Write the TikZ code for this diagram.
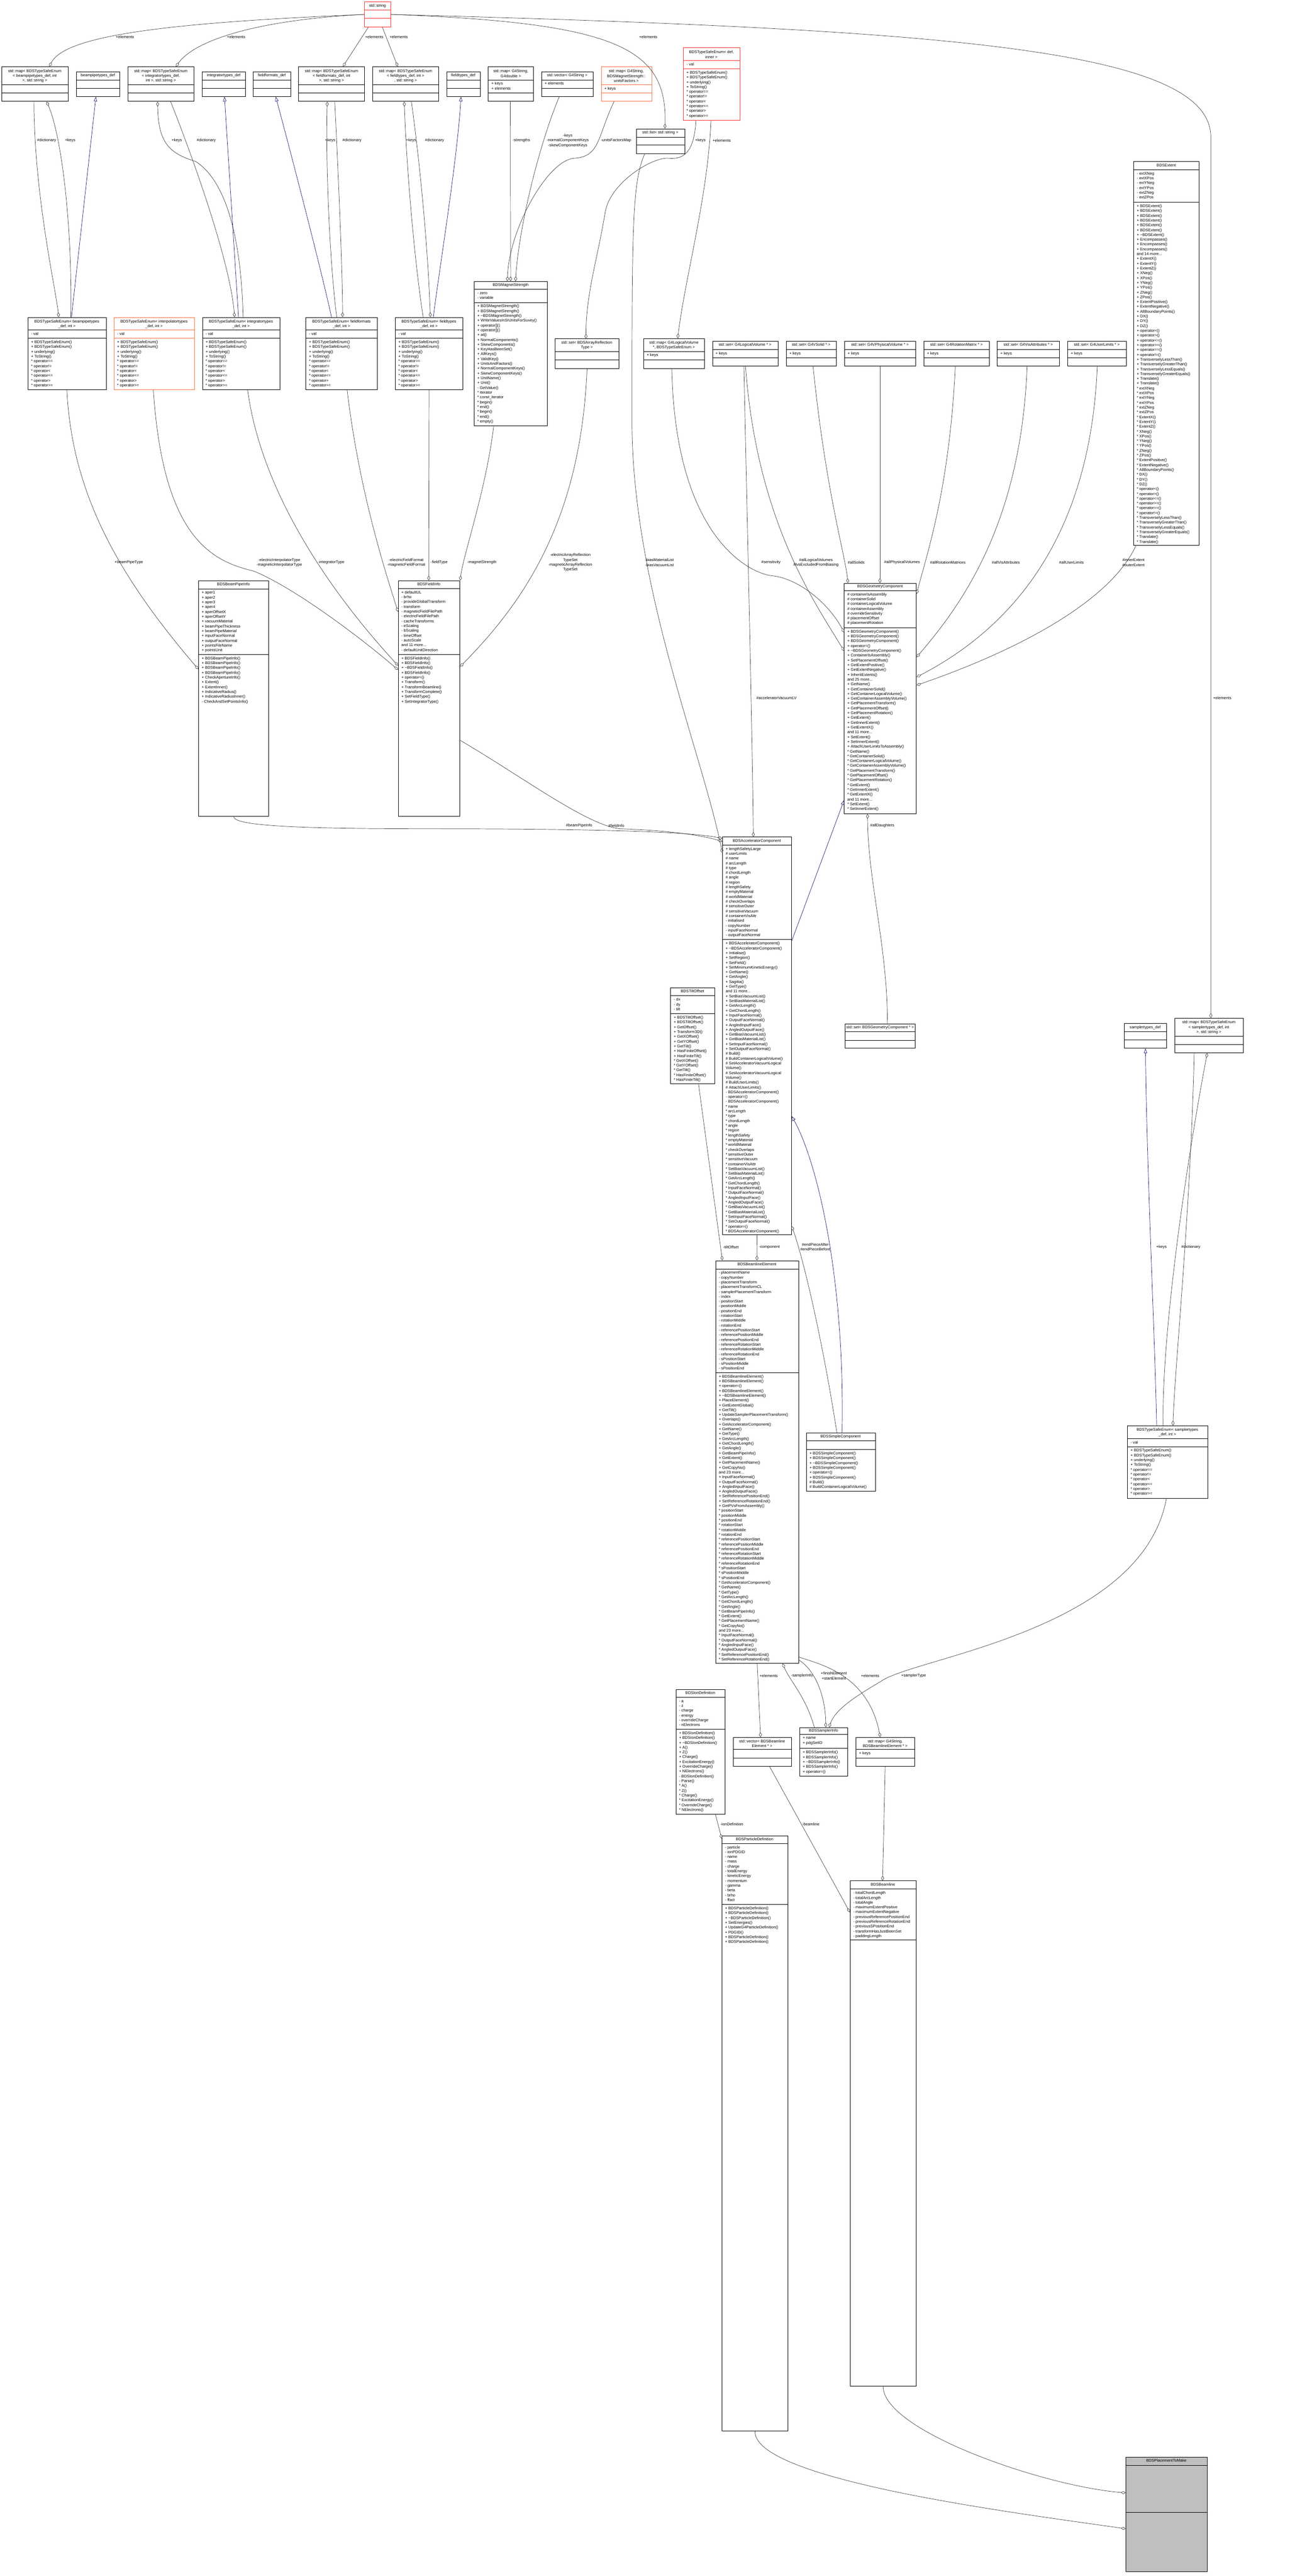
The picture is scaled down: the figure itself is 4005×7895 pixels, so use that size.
\documentclass[tikz,border=0pt]{standalone}
\usepackage{fontspec}
\setmainfont{Liberation Sans}
\usetikzlibrary{arrows.meta,calc}
\definecolor{edgec}{HTML}{404040}
\definecolor{inhc}{HTML}{191970}
\definecolor{redc}{HTML}{FF3030}
\definecolor{orc}{HTML}{FF7040}
\definecolor{focusc}{HTML}{BFBFBF}
\newcommand\mf{\fontsize{12}{14.7}\selectfont}
\newcommand\te{\textasciitilde}
\newcommand\setys[4]{\def\ya{#1}\def\yb{#2}\def\yc{#3}\def\yd{#4}}
\tikzset{
  umlbox/.style={draw, line width=1.5pt, fill=white, anchor=north west, inner sep=0pt},
  ttl/.style={font=\mf, align=center, inner sep=0pt, anchor=center},
  mem/.style={font=\mf, align=left, anchor=north west, inner sep=0pt},
  lbl/.style={font=\mf, align=center, inner sep=0pt},
  ln/.style={draw=edgec, line width=1.1pt},
  agg/.style={ln, -{Diamond[open,length=15pt,width=9pt,line width=1.1pt]}},
  inh/.style={draw=inhc, line width=1.1pt, -{Triangle[open,length=14pt,width=10pt,line width=1.1pt]}}
}
\newcommand\uml[7][black]{%
  \pgfmathsetmacro\hh{\yd-\ya}%
  \pgfmathsetmacro\xm{#3+#4/2}%
  \pgfmathsetmacro\ym{(\ya+\yb)/2}%
  \node[umlbox, draw=#1, minimum width=#4pt, minimum height=\hh pt] (#2) at (#3,\ya) {};
  \draw[draw=#1, line width=1.5pt] (#3,\yb) -- (#3+#4,\yb) (#3,\yc) -- (#3+#4,\yc);
  \node[ttl] (#2-t) at (\xm,\ym) {\strut#5};
  \node[mem] (#2-a) at (#3+10,\yb+5) {\strut#6};
  \node[mem] (#2-m) at (#3+10,\yc+5) {\strut#7};
}
\newcommand\tsem{+ BDSTypeSafeEnum()\\+ BDSTypeSafeEnum()\\+ underlying()\\+ ToString()\\{*} operator==\\{*} operator!=\\{*} operator<\\{*} operator<=\\{*} operator>\\{*} operator>=}
\newcommand\extcore[1]{#1 ExtentX()\\#1 ExtentY()\\#1 ExtentZ()\\#1 XNeg()\\#1 XPos()\\#1 YNeg()\\#1 YPos()\\#1 ZNeg()\\#1 ZPos()\\#1 ExtentPositive()\\#1 ExtentNegative()\\#1 AllBoundaryPoints()\\#1 DX()\\#1 DY()\\#1 DZ()\\#1 operator<()\\#1 operator>()\\#1 operator<=()\\#1 operator>=()\\#1 operator==()\\#1 operator!=()\\#1 TransverselyLessThan()\\#1 TransverselyGreaterThan()\\#1 TransverselyLessEquals()\\#1 TransverselyGreaterEquals()\\#1 Translate()\\#1 Translate()}
\newcommand\gccore[1]{#1 GetName()\\#1 GetContainerSolid()\\#1 GetContainerLogicalVolume()\\#1 GetContainerAssemblyVolume()\\#1 GetPlacementTransform()\\#1 GetPlacementOffset()\\#1 GetPlacementRotation()\\#1 GetExtent()\\#1 GetInnerExtent()\\#1 GetExtentX()\\and 11 more...\\#1 SetExtent()\\#1 SetInnerExtent()}
\newcommand\accore[1]{#1 SetBiasVacuumList()\\#1 SetBiasMaterialList()\\#1 GetArcLength()\\#1 GetChordLength()\\#1 InputFaceNormal()\\#1 OutputFaceNormal()\\#1 AngledInputFace()\\#1 AngledOutputFace()\\#1 GetBiasVacuumList()\\#1 GetBiasMaterialList()\\#1 SetInputFaceNormal()\\#1 SetOutputFaceNormal()}
\newcommand\acattr[1]{#1 name\\#1 arcLength\\#1 type\\#1 chordLength\\#1 angle\\#1 region\\#1 lengthSafety\\#1 emptyMaterial\\#1 worldMaterial\\#1 checkOverlaps\\#1 sensitiveOuter\\#1 sensitiveVacuum\\#1 containerVisAttr}
\newcommand\blepos[1]{#1 positionStart\\#1 positionMiddle\\#1 positionEnd\\#1 rotationStart\\#1 rotationMiddle\\#1 rotationEnd\\#1 referencePositionStart\\#1 referencePositionMiddle\\#1 referencePositionEnd\\#1 referenceRotationStart\\#1 referenceRotationMiddle\\#1 referenceRotationEnd\\#1 sPositionStart\\#1 sPositionMiddle\\#1 sPositionEnd}
\newcommand\blecore[1]{#1 GetAcceleratorComponent()\\#1 GetName()\\#1 GetType()\\#1 GetArcLength()\\#1 GetChordLength()\\#1 GetAngle()\\#1 GetBeamPipeInfo()\\#1 GetExtent()\\#1 GetPlacementName()\\#1 GetCopyNo()\\and 23 more...\\#1 InputFaceNormal()\\#1 OutputFaceNormal()\\#1 AngledInputFace()\\#1 AngledOutputFace()\\#1 SetReferencePositionEnd()\\#1 SetReferenceRotationEnd()}
\begin{document}
\begin{tikzpicture}[x=1pt,y=-1pt]
\useasboundingbox (0,0) rectangle (4005,7895);
\fill[white] (0,0) rectangle (4005,7895);
% ---------- top rows
\setys{5}{31}{56}{82}\uml[redc]{str}{1117}{80}{std::string}{}{}
\setys{204}{260}{285}{310}
\uml{mapbeam}{5}{203}{std::map< BDSTypeSafeEnum\\< beampipetypes\_def, int\\>, std::string >}{}{}
\uml{mapinteg}{392}{202}{std::map< BDSTypeSafeEnum\\< integratortypes\_def,\\int >, std::string >}{}{}
\uml{mapfform}{915}{202}{std::map< BDSTypeSafeEnum\\< fieldformats\_def, int\\>, std::string >}{}{}
\uml{mapftype}{1142}{202}{std::map< BDSTypeSafeEnum\\< fieldtypes\_def, int >\\, std::string >}{}{}
\uml[orc]{mapunits}{1842}{155}{std::map< G4String,\\BDSMagnetStrength::\\unitsFactors >}{+ keys}{}
\setys{204}{245}{285}{310}\uml{mapstr}{1496}{139}{std::map< G4String,\\G4double >}{+ keys\\+ elements}{}
\setys{219}{245}{270}{295}
\uml{beamdef}{233}{134}{beampipetypes\_def}{}{}
\uml{integdef}{619}{133}{integratortypes\_def}{}{}
\uml{fformdef}{776}{114}{fieldformats\_def}{}{}
\uml{ftypedef}{1369}{102}{fieldtypes\_def}{}{}
\uml{vecstr}{1659}{159}{std::vector< G4String >}{+ elements}{}
\setys{146}{186}{211}{368}\uml[redc]{tsedef}{2094}{173}{BDSTypeSafeEnum< def,\\inner >}{- val}{\tsem}
\setys{394}{420}{445}{470}\uml{liststr}{1950}{148}{std::list< std::string >}{}{}
% ---------- enum row
\setys{972}{1012}{1037}{1194}
\uml{tsebeam}{85}{240}{BDSTypeSafeEnum< beampipetypes\\\_def, int >}{- val}{\tsem}
\uml[orc]{tseinterp}{349}{246}{BDSTypeSafeEnum< interpolatortypes\\\_def, int >}{- val}{\tsem}
\uml{tseinteg}{620}{237}{BDSTypeSafeEnum< integratortypes\\\_def, int >}{- val}{\tsem}
\uml{tsefform}{937}{219}{BDSTypeSafeEnum< fieldformats\\\_def, int >}{- val}{\tsem}
\uml{tseftype}{1211}{207}{BDSTypeSafeEnum< fieldtypes\\\_def, int >}{- val}{\tsem}
\setys{862}{887}{927}{1305}
\uml{magstr}{1453}{224}{BDSMagnetStrength}{- zero\\- variable}{+ BDSMagnetStrength()\\+ BDSMagnetStrength()\\+ \te BDSMagnetStrength()\\+ WriteValuesInSIUnitsForSuvey()\\+ operator[]()\\+ operator[]()\\+ at()\\+ NormalComponents()\\+ SkewComponents()\\+ KeyHasBeenSet()\\+ AllKeys()\\+ ValidKey()\\+ UnitsAndFactors()\\+ NormalComponentKeys()\\+ SkewComponentKeys()\\+ UnitName()\\+ Unit()\\- GetValue()\\{*} iterator\\{*} const\_iterator\\{*} begin()\\{*} end()\\{*} begin()\\{*} end()\\{*} empty()}
\setys{1038}{1077}{1103}{1129}\uml{setarr}{1701}{195}{std::set< BDSArrayReflection\\Type >}{}{}
\setys{1037}{1077}{1103}{1129}\uml{maplv}{1972}{187}{std::map< G4LogicalVolume\\*, BDSTypeSafeEnum >}{+ keys}{}
\setys{1045}{1071}{1096}{1121}
\uml{setlv}{2183}{201}{std::set< G4LogicalVolume * >}{+ keys}{}
\uml{setsolid}{2409}{154}{std::set< G4VSolid * >}{+ keys}{}
\uml{setpv}{2588}{218}{std::set< G4VPhysicalVolume * >}{+ keys}{}
\uml{setrot}{2831}{201}{std::set< G4RotationMatrix * >}{+ keys}{}
\uml{setvis}{3056}{191}{std::set< G4VisAttributes * >}{+ keys}{}
\uml{setul}{3272}{179}{std::set< G4UserLimits * >}{+ keys}{}
\setys{495}{520}{620}{1670}
\uml{extent}{3474}{201}{BDSExtent}{- extXNeg\\- extXPos\\- extYNeg\\- extYPos\\- extZNeg\\- extZPos}{+ BDSExtent()\\+ BDSExtent()\\+ BDSExtent()\\+ BDSExtent()\\+ BDSExtent()\\+ BDSExtent()\\+ \te BDSExtent()\\+ Encompasses()\\+ Encompasses()\\+ Encompasses()\\and 14 more...\\\extcore{+}\\{*} extXNeg\\{*} extXPos\\{*} extYNeg\\{*} extYPos\\{*} extZNeg\\{*} extZPos\\\extcore{{*}}}
% ---------- info boxes
\setys{1779}{1805}{2006}{2501}
\uml{beampipe}{608}{215}{BDSBeamPipeInfo}{+ aper1\\+ aper2\\+ aper3\\+ aper4\\+ aperOffsetX\\+ aperOffsetY\\+ vacuumMaterial\\+ beamPipeThickness\\+ beamPipeMaterial\\+ inputFaceNormal\\+ outputFaceNormal\\+ pointsFileName\\+ pointsUnit}{+ BDSBeamPipeInfo()\\+ BDSBeamPipeInfo()\\+ BDSBeamPipeInfo()\\+ BDSBeamPipeInfo()\\+ CheckApertureInfo()\\+ Extent()\\+ ExtentInner()\\+ IndicativeRadius()\\+ IndicativeRadiusInner()\\- CheckAndSetPointsInfo()}
\setys{1779}{1804}{2006}{2501}
\uml{fieldinfo}{1220}{189}{BDSFieldInfo}{+ defaultUL\\- brho\\- provideGlobalTransform\\- transform\\- magneticFieldFilePath\\- electricFieldFilePath\\- cacheTransforms\\- eScaling\\- bScaling\\- timeOffset\\- autoScale\\and 11 more...\\- defaultUnitDirection}{+ BDSFieldInfo()\\+ BDSFieldInfo()\\+ \te BDSFieldInfo()\\+ BDSFieldInfo()\\+ operator=()\\+ Transform()\\+ TransformBeamline()\\+ TransformComplete()\\+ SetFieldType()\\+ SetIntegratorType()}
\setys{1787}{1810}{1924}{2493}
\uml{geomcomp}{2587}{221}{BDSGeometryComponent}{\# containerIsAssembly\\\# containerSolid\\\# containerLogicalVolume\\\# containerAssembly\\\# overrideSensitivity\\\# placementOffset\\\# placementRotation}{+ BDSGeometryComponent()\\+ BDSGeometryComponent()\\+ BDSGeometryComponent()\\+ operator=()\\+ \te BDSGeometryComponent()\\+ ContainerIsAssembly()\\+ SetPlacementOffset()\\+ GetExtentPositive()\\+ GetExtentNegative()\\+ InheritExtents()\\and 25 more...\\\gccore{+}\\+ AttachUserLimitsToAssembly()\\\gccore{{*}}}
\setys{2565}{2590}{2880}{3783}
\uml{acccomp}{2214}{211}{BDSAcceleratorComponent}{+ lengthSafetyLarge\\\# userLimits\\\acattr{\#}\\- initialised\\- copyNumber\\- inputFaceNormal\\- outputFaceNormal}{+ BDSAcceleratorComponent()\\+ \te BDSAcceleratorComponent()\\+ Initialise()\\+ SetRegion()\\+ SetField()\\+ SetMinimumKineticEnergy()\\+ GetName()\\+ GetAngle()\\+ Sagitta()\\+ GetType()\\and 11 more...\\\accore{+}\\\# Build()\\\# BuildContainerLogicalVolume()\\\# SetAcceleratorVacuumLogical\\Volume()\\\# SetAcceleratorVacuumLogical\\Volume()\\\# BuildUserLimits()\\\# AttachUserLimits()\\- BDSAcceleratorComponent()\\- operator=()\\- BDSAcceleratorComponent()\\\acattr{{*}}\\\accore{{*}}\\{*} operator=()\\{*} BDSAcceleratorComponent()}
\setys{3027}{3052}{3107}{3321}
\uml{tilt}{2055}{135}{BDSTiltOffset}{- dx\\- dy\\- tilt}{+ BDSTiltOffset()\\+ BDSTiltOffset()\\+ GetOffset()\\+ Transform3D()\\+ GetXOffset()\\+ GetYOffset()\\+ GetTilt()\\+ HasFiniteOffset()\\+ HasFiniteTilt()\\{*} GetXOffset()\\{*} GetYOffset()\\{*} GetTilt()\\{*} HasFiniteOffset()\\{*} HasFiniteTilt()}
\setys{3137}{3162}{3188}{3212}\uml{setgc}{2590}{215}{std::set< BDSGeometryComponent * >}{}{}
% sampler type enum (right column)
\setys{3120}{3176}{3201}{3226}\uml{mapsamp}{3600}{210}{std::map< BDSTypeSafeEnum\\< samplertypes\_def, int\\>, std::string >}{}{}
\setys{3136}{3162}{3187}{3212}\uml{sampdef}{3445}{130}{samplertypes\_def}{}{}
\setys{4369}{4409}{4434}{4591}\uml{tsesamp}{3455}{246}{BDSTypeSafeEnum< samplertypes\\\_def, int >}{- val}{\tsem}
\setys{3863}{3889}{4207}{5097}
\uml{ble}{2193}{254}{BDSBeamlineElement}{- placementName\\- copyNumber\\- placementTransform\\- placementTransformCL\\- samplerPlacementTransform\\- index\\\blepos{-}}{+ BDSBeamlineElement()\\+ BDSBeamlineElement()\\+ operator=()\\+ BDSBeamlineElement()\\+ \te BDSBeamlineElement()\\+ PlaceElement()\\+ GetExtentGlobal()\\+ GetTilt()\\+ UpdateSamplerPlacementTransform()\\+ Overlaps()\\\blecore{+}\\+ GetPVsFromAssembly()\\\blepos{{*}}\\\blecore{{*}}}
\setys{4391}{4416}{4443}{4570}
\uml{simple}{2471}{211}{BDSSimpleComponent}{}{+ BDSSimpleComponent()\\+ BDSSimpleComponent()\\+ \te BDSSimpleComponent()\\+ BDSSimpleComponent()\\+ operator=()\\+ BDSSimpleComponent()\\\# Build()\\\# BuildContainerLogicalVolume()}
\setys{5324}{5362}{5389}{5413}\uml{vecble}{2247}{178}{std::vector< BDSBeamline\\Element * >}{}{}
\setys{5324}{5362}{5389}{5413}\uml{mapble}{2623}{180}{std::map< G4String,\\BDSBeamlineElement * >}{+ keys}{}
\setys{5294}{5315}{5359}{5443}\uml{sampinfo}{2450}{148}{BDSSamplerInfo}{+ name\\+ pdgSetID}{+ BDSSamplerInfo()\\+ BDSSamplerInfo()\\+ \te BDSSamplerInfo()\\+ BDSSamplerInfo()\\+ operator=()}
\setys{5177}{5202}{5300}{5560}
\uml{iondef}{2071}{151}{BDSIonDefinition}{- a\\- z\\- charge\\- energy\\- overrideCharge\\- nElectrons}{+ BDSIonDefinition()\\+ BDSIonDefinition()\\+ \te BDSIonDefinition()\\+ A()\\+ Z()\\+ Charge()\\+ ExcitationEnergy()\\+ OverrideCharge()\\+ NElectrons()\\- BDSIonDefinition()\\- Parse()\\{*} A()\\{*} Z()\\{*} Charge()\\{*} ExcitationEnergy()\\{*} OverrideCharge()\\{*} NElectrons()}
\setys{5626}{5650}{5837}{7450}
\uml{partdef}{2212}{202}{BDSParticleDefinition}{- particle\\- ionPDGID\\- name\\- mass\\- charge\\- totalEnergy\\- kineticEnergy\\- momentum\\- gamma\\- beta\\- brho\\- ffact}{+ BDSParticleDefinition()\\+ BDSParticleDefinition()\\+ \te BDSParticleDefinition()\\+ SetEnergies()\\+ UpdateG4ParticleDefinition()\\+ PDGID()\\+ BDSParticleDefinition()\\+ BDSParticleDefinition()}
\setys{5764}{5790}{5946}{7312}
\uml{beamline}{2605}{202}{BDSBeamline}{- totalChordLength\\- totalArcLength\\- totalAngle\\- maximumExtentPositive\\- maximumExtentNegative\\- previousReferencePositionEnd\\- previousReferenceRotationEnd\\- previousSPositionEnd\\- transformHasJustBeenSet\\- paddingLength}{}
\node[umlbox, fill=focusc, minimum width=250pt, minimum height=350pt] (focus) at (3450,7530) {};
\node[ttl] (focus-t) at (3575,7543) {\strut BDSPlacementToMake};
\draw[line width=1.5pt] (3450,7556) -- (3700,7556) (3450,7700) -- (3700,7700);
% ---------- edges: top
\draw[agg] (str.west) .. controls (500,70) and (200,110) .. ($(mapbeam.north west)+(146,0)$);
\draw[agg] (str.west) .. controls (800,60) and (600,120) .. ($(mapinteg.north west)+(147,0)$);
\draw[agg] ($(str.south west)+(12,0)$) -- ($(mapfform.north west)+(136,0)$);
\draw[agg] ($(str.south west)+(55,0)$) -- ($(mapftype.north west)+(77,0)$);
\draw[agg] (str.east) .. controls (1900,70) and (2045,150) .. ($(liststr.north west)+(88,0)$);
\draw[agg] (str.east) .. controls (2900,90) and (3711,150) .. (3711,420) -- ($(mapsamp.north west)+(111,0)$);
\node[lbl] (l1) at (383,113) {+elements};
\node[lbl] (l2) at (724,113) {+elements};
\node[lbl] (l3) at (1147,113) {+elements};
\node[lbl] (l4) at (1222,113) {+elements};
\node[lbl] (l5) at (1987,113) {+elements};
\node[lbl] (l5b) at (3746,2139) {+elements};
\draw[agg] ($(tsedef.south west)+(39,0)$) .. controls (2128,460) and (2100,490) .. (2050,485) .. controls (2000,480) and (1870,560) .. (1855,650) .. controls (1830,800) and (1796,900) .. ($(setarr.north west)+(95,0)$);
\draw[agg] ($(tsedef.south west)+(85,0)$) .. controls (2170,600) and (2100,850) .. ($(maplv.north west)+(105,0)$);
\node[lbl] (l6) at (2147,431) {+keys};
\node[lbl] (l7) at (2212,431) {+elements};
% map -> enum
\draw[agg] ($(mapbeam.south west)+(99,0)$) .. controls (105,600) and (170,880) .. ($(tsebeam.north west)+(95,0)$);
\draw[agg] ($(tsebeam.north west)+(132,0)$) .. controls (222,700) and (190,420) .. ($(mapbeam.south west)+(138,0)$);
\draw[inh] ($(tsebeam.north west)+(134,0)$) -- ($(beamdef.south west)+(61,0)$);
\node[lbl] (l8) at (143,431) {\#dictionary};
\node[lbl] (l9) at (215,431) {+keys};
\draw[agg] ($(mapinteg.south west)+(131,0)$) .. controls (590,480) and (705,800) .. ($(tseinteg.north west)+(99,0)$);
\draw[agg] ($(tseinteg.north west)+(125,0)$) .. controls (740,750) and (700,560) .. (600,495) .. controls (520,470) and (485,440) .. ($(mapinteg.south west)+(91,0)$);
\draw[inh] ($(tseinteg.north west)+(111,0)$) -- ($(integdef.south west)+(69,0)$);
\node[lbl] (l10) at (542,431) {+keys};
\node[lbl] (l11) at (632,431) {\#dictionary};
\draw[agg] ($(mapfform.south west)+(111,0)$) .. controls (1040,600) and (1050,850) .. ($(tsefform.north west)+(113,0)$);
\draw[agg] ($(tsefform.north west)+(95,0)$) .. controls (1010,800) and (998,500) .. ($(mapfform.south west)+(88,0)$);
\draw[inh] ($(tsefform.north west)+(79,0)$) .. controls (990,850) and (900,500) .. ($(fformdef.south west)+(69,0)$);
\node[lbl] (l12) at (1012,431) {+keys};
\node[lbl] (l13) at (1079,431) {\#dictionary};
\draw[agg] ($(mapftype.south west)+(119,0)$) .. controls (1300,600) and (1315,850) .. ($(tseftype.north west)+(108,0)$);
\draw[agg] ($(tseftype.north west)+(86,0)$) .. controls (1270,800) and (1245,500) .. ($(mapftype.south west)+(97,0)$);
\draw[inh] ($(tseftype.north west)+(117,0)$) .. controls (1350,800) and (1400,500) .. ($(ftypedef.south west)+(44,0)$);
\node[lbl] (l14) at (1260,431) {+keys};
\node[lbl] (l15) at (1332,431) {\#dictionary};
% sampler enum
\draw[agg] ($(mapsamp.south west)+(60,0)$) .. controls (3650,3700) and (3600,4200) .. ($(tsesamp.north west)+(140,0)$);
\draw[agg] ($(tsesamp.north west)+(110,0)$) .. controls (3560,4100) and (3630,3600) .. ($(mapsamp.south west)+(100,0)$);
\draw[inh] ($(tsesamp.north west)+(90,0)$) .. controls (3540,4100) and (3515,3600) .. (sampdef.south);
\node[lbl] (l15b) at (3560,3822) {+keys};
\node[lbl] (l15c) at (3650,3822) {\#dictionary};
% magnet strength
\draw[agg] ($(mapstr.south west)+(68,0)$) -- ($(magstr.north west)+(112,0)$);
\draw[agg] ($(vecstr.south west)+(55,0)$) .. controls (1650,450) and (1590,700) .. ($(magstr.north west)+(127,0)$);
\draw[agg] ($(mapunits.south west)+(40,0)$) .. controls (1830,420) and (1840,480) .. (1760,485) .. controls (1680,490) and (1560,700) .. ($(magstr.north west)+(102,0)$);
\node[lbl] (l16) at (1598,431) {-strengths};
\node[lbl] (l17) at (1740,431) {-keys\\-normalComponentKeys\\-skewComponentKeys};
\node[lbl] (l18) at (1888,431) {-unitsFactorsMap};
% field info
\draw[agg] ($(magstr.south west)+(60,0)$) .. controls (1490,1500) and (1420,1700) .. (fieldinfo.north east);
\draw[agg] (tseftype.south) -- ($(fieldinfo.north west)+(94,0)$);
\draw[agg] ($(tsefform.south west)+(127,0)$) .. controls (1100,1500) and (1180,1750) .. ($(fieldinfo.north west)+(0,96)$);
\draw[agg] ($(tseinteg.south west)+(139,0)$) .. controls (800,1500) and (1000,1800) .. ($(fieldinfo.north west)+(0,261)$);
\draw[agg] ($(tseinterp.south west)+(121,0)$) .. controls (500,1650) and (650,1720) .. (777,1750) .. controls (900,1800) and (1100,1950) .. ($(fieldinfo.north west)+(0,274)$);
\draw[agg] ($(tsebeam.south west)+(120,0)$) .. controls (220,1500) and (350,1750) .. ($(beampipe.north west)+(0,272)$);
\draw[agg] (setarr.south) .. controls (1780,1600) and (1600,1850) .. ($(fieldinfo.north east)+(0,264)$);
\node[lbl] (l19) at (1477,1724) {-magnetStrength};
\node[lbl] (l20) at (1346,1724) {-fieldType};
\node[lbl] (l21) at (1245,1724) {-electricFieldFormat\\-magneticFieldFormat};
\node[lbl] (l22) at (1015,1724) {-integratorType};
\node[lbl] (l23) at (856,1724) {-electricInterpolatorType\\-magneticInterpolatorType};
\node[lbl] (l24) at (395,1724) {+beamPipeType};
\node[lbl] (l25) at (1748,1724) {-electricArrayReflection\\TypeSet\\-magneticArrayReflection\\TypeSet};
% geometry component
\draw[agg] ($(maplv.south west)+(87,0)$) .. controls (2070,1650) and (2300,1760) .. (2370,1765) .. controls (2450,1775) and (2540,1850) .. ($(geomcomp.north west)+(0,151)$);
\draw[agg] ($(setlv.south west)+(102,0)$) .. controls (2320,1600) and (2500,1850) .. ($(geomcomp.north west)+(0,208)$);
\draw[agg] ($(setlv.south west)+(97,0)$) .. controls (2290,1600) and (2305,2200) .. ($(acccomp.north west)+(95,0)$);
\draw[agg] ($(setsolid.south west)+(83,0)$) .. controls (2530,1500) and (2590,1700) .. ($(geomcomp.north west)+(12,0)$);
\draw[agg] ($(setpv.south west)+(109,0)$) -- ($(geomcomp.north west)+(110,0)$);
\draw[agg] ($(setrot.south west)+(97,0)$) .. controls (2910,1500) and (2840,1700) .. ($(geomcomp.north east)+(0,33)$);
\draw[agg] ($(setvis.south west)+(92,0)$) .. controls (3130,1600) and (2950,1850) .. ($(geomcomp.north east)+(0,227)$);
\draw[agg] ($(setul.south west)+(91,0)$) .. controls (3340,1700) and (3050,1950) .. ($(geomcomp.north east)+(0,288)$);
\draw[agg] ($(extent.south west)+(8,0)$) .. controls (3400,1850) and (3100,2000) .. ($(geomcomp.north east)+(0,313)$);
\draw[agg] ($(setgc.north west)+(130,0)$) .. controls (2720,2900) and (2660,2700) .. ($(geomcomp.south west)+(72,0)$);
\draw[inh] ($(acccomp.north east)+(0,319)$) -- ($(geomcomp.south west)+(0,-42)$);
\node[lbl] (l26) at (2363,1724) {\#sensitivity};
\node[lbl] (l27) at (2501,1724) {\#allLogicalVolumes\\\#lvsExcludedFromBiasing};
\node[lbl] (l28) at (2380,2139) {\#acceleratorVacuumLV};
\node[lbl] (l29) at (2624,1724) {\#allSolids};
\node[lbl] (l30) at (2765,1724) {\#allPhysicalVolumes};
\node[lbl] (l31) at (2905,1724) {\#allRotationMatrices};
\node[lbl] (l32) at (3083,1724) {\#allVisAttributes};
\node[lbl] (l33) at (3284,1724) {\#allUserLimits};
\node[lbl] (l34) at (3474,1724) {\#innerExtent\\\#outerExtent};
\node[lbl] (l35) at (2704,2531) {\#allDaughters};
% accelerator component
\draw[agg] (beampipe.south) .. controls (715,2530) and (900,2540) .. (1300,2540) .. controls (1700,2540) and (2100,2545) .. ($(acccomp.north west)+(0,5)$);
\draw[agg] ($(fieldinfo.north east)+(0,490)$) .. controls (1600,2380) and (1800,2530) .. (1900,2540) .. controls (2050,2545) and (2150,2560) .. ($(acccomp.north west)+(0,14)$);
\draw[agg] ($(liststr.south west)+(26,0)$) .. controls (1937,560) and (1937,700) .. (1937,1300) .. controls (1940,1800) and (2150,2300) .. ($(acccomp.north west)+(0,49)$);
\node[lbl] (l36) at (1775,2531) {\#beamPipeInfo};
\node[lbl] (l37) at (1889,2531) {\#fieldInfo};
\node[lbl] (l38) at (2021,1724) {-biasMaterialList\\-biasVacuumList};
% beamline element
\draw[agg] ($(tilt.south west)+(86,0)$) -- ($(ble.north west)+(21,0)$);
\draw[agg] (acccomp.south) -- ($(ble.north west)+(127,0)$);
\draw[agg] ($(simple.north west)+(94,0)$) .. controls (2520,4100) and (2460,3850) .. ($(acccomp.north east)+(0,1193)$);
\draw[inh] ($(simple.north west)+(110,0)$) .. controls (2590,3900) and (2500,3550) .. ($(acccomp.north east)+(0,856)$);
\node[lbl] (l39) at (2240,3822) {-tiltOffset};
\node[lbl] (l40) at (2358,3822) {-component};
\node[lbl] (l41) at (2499,3822) {\#endPieceAfter\\\#endPieceBefore};
\draw[agg] (ble.south) -- ($(vecble.north west)+(84,0)$);
\draw[agg] ($(sampinfo.north west)+(46,0)$) .. controls (2470,5200) and (2420,5150) .. ($(ble.south west)+(206,0)$);
\draw[agg] ($(ble.south east)+(0,-11)$) .. controls (2500,5120) and (2530,5200) .. ($(sampinfo.north west)+(81,0)$);
\draw[agg] ($(ble.south east)+(0,-20)$) .. controls (2510,5100) and (2660,5130) .. ($(mapble.north west)+(75,0)$);
\draw[agg] ($(tsesamp.south west)+(120,0)$) .. controls (3500,5000) and (2800,5080) .. (2700,5153) .. controls (2620,5200) and (2560,5240) .. ($(sampinfo.north west)+(91,0)$);
\node[lbl] (l42) at (2356,5136) {+elements};
\node[lbl] (l43) at (2458,5136) {-samplerInfo};
\node[lbl] (l44) at (2556,5136) {+finishElement\\+startElement};
\node[lbl] (l44b) at (2667,5136) {+elements};
\node[lbl] (l44c) at (2800,5136) {+samplerType};
\draw[agg] ($(iondef.south west)+(122,0)$) -- ($(partdef.north west)+(0,9)$);
\node[lbl] (l45) at (2243,5591) {-ionDefinition};
\draw[agg] ($(vecble.south west)+(112,0)$) -- ($(beamline.north west)+(0,97)$);
\node[lbl] (l46) at (2485,5591) {-beamline};
\draw[agg] ($(mapble.south west)+(90,0)$) -- ($(beamline.north west)+(100,0)$);
% focus
\draw[agg] (beamline.south) .. controls (2706,7450) and (3200,7620) .. ($(focus.north west)+(0,110)$);
\draw[agg] (partdef.south) .. controls (2313,7600) and (3100,7700) .. ($(focus.north west)+(0,220)$);
\end{tikzpicture}
\end{document}
